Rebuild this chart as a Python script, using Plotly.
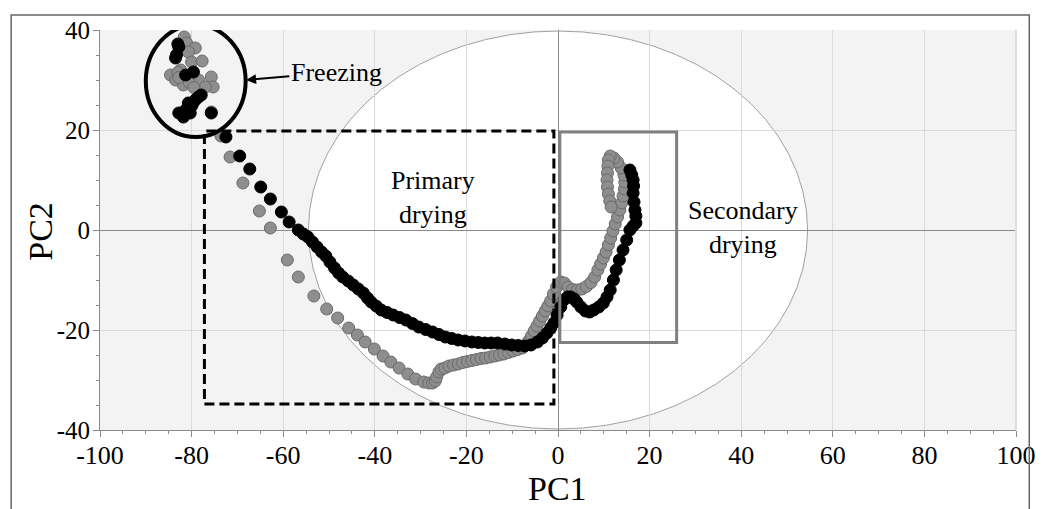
import plotly.graph_objects as go

# ---------------- data ----------------
gray_freeze_x = [-81.6, -81.1, -79.2, -80.7, -80.0, -77.7, -84.6, -82.4, -83.5, -81.8, -78.5, -75.7, -75.3, -77.0, -75.7,
                 -83.0, -80.5, -79.5, -82.8]
gray_freeze_y = [38.6, 37.4, 36.4, 35.6, 33.6, 33.8, 31.0, 32.0, 30.0, 29.0, 30.0, 30.6, 28.6, 28.6, 23.6,
                 31.5, 29.5, 28.5, 30.5]
gray_path_x = [-73.6, -71.6, -68.8, -65.2, -62.8, -59.1, -56.7, -53.3, -50.5, -48.1, -45.7, -43.8, -42.1, -40.1,
               -38.2, -36.5, -34.7, -32.8, -31.1, -29.3, -28.2, -27.4, -26.8, -26.5, -26.0, -25.5, -24.7, -23.8,
               -22.8, -21.8, -20.8, -19.8, -18.8, -17.8, -16.8, -15.8, -14.8, -13.8, -12.8, -11.8, -10.8, -9.8,
               -8.8, -7.8, -7.0, -6.4, -5.8, -5.2, -4.6, -4.0, -3.4, -2.8, -2.2, -1.6, -1.0, -0.3, 0.6, 1.4, 2.2,
               3.2, 4.2, 5.2, 6.2, 7.2, 8.0, 8.7, 9.3, 9.9, 10.5, 11.0, 11.5, 12.0, 12.5, 13.0, 13.5, 13.9, 14.2,
               14.5, 14.6, 14.4, 13.8, 13.0, 12.2, 11.4, 11.0, 10.9, 10.8, 10.7, 10.8, 11.0, 11.3, 11.6]
gray_path_y = [18.8, 14.6, 9.4, 3.8, 0.4, -6.0, -9.4, -13.2, -15.8, -17.6, -19.6, -21.0, -22.4, -23.8,
               -25.2, -26.4, -27.6, -28.8, -29.8, -30.4, -30.6, -30.6, -30.2, -29.4, -28.4, -27.8, -27.6, -27.2,
               -27.0, -26.8, -26.5, -26.3, -26.1, -25.9, -25.7, -25.6, -25.4, -25.2, -25.0, -24.8, -24.5, -24.2,
               -23.9, -23.6, -23.0, -22.2, -21.2, -20.2, -19.2, -18.2, -17.2, -16.2, -15.2, -14.2, -12.8, -11.4,
               -10.4, -10.6, -11.4, -11.9, -12.0, -11.8, -11.3, -10.5, -9.4, -8.0, -6.8, -5.6, -4.4, -3.0, -1.6,
               -0.2, 1.2, 2.6, 4.0, 5.4, 6.8, 8.2, 9.6, 11.0, 12.4, 13.6, 14.4, 14.8, 14.0, 12.8, 11.4, 10.0, 8.6,
               7.2, 5.8, 4.6]

black_freeze_x = [-82.8, -83.3, -83.5, -81.3, -79.6, -78.5, -79.2, -80.7, -81.3, -82.8, -81.8, -80.3, -77.9, -75.7,
                  -83.0, -80.0, -79.8]
black_freeze_y = [36.6, 35.0, 34.4, 31.0, 31.6, 26.6, 26.0, 25.4, 24.0, 23.4, 22.6, 23.4, 27.0, 23.4,
                  37.2, 24.8, 25.2]
black_path_x = [-72.5, -69.5, -67.3, -64.9, -62.8, -60.4, -58.7, -56.7, -55.6, -54.6, -53.6, -52.6, -51.6, -50.7,
                -49.8, -48.8, -47.9, -47.0, -45.8, -44.7, -43.6, -42.5, -41.6, -40.8, -39.7, -38.6, -37.3, -36.0,
                -34.6, -33.2, -31.8, -30.4, -28.9, -27.4, -26.0, -24.6, -23.2, -21.8, -20.3, -18.8, -17.4, -16.0,
                -14.6, -13.2, -11.6, -10.1, -8.7, -7.3, -5.9, -4.5, -3.4, -2.4, -1.6, -0.9, -0.2, 0.6, 1.3, 2.1,
                2.8, 3.5, 4.1, 5.0, 6.0, 6.9, 7.8, 8.9, 9.9, 10.7, 11.4, 12.1, 12.7, 13.4, 14.2, 15.0, 15.7, 16.4,
                17.0, 17.0, 16.8, 16.6, 16.4, 16.5, 16.4, 16.1, 15.7]
black_path_y = [18.6, 14.8, 12.2, 8.6, 6.2, 3.6, 1.6, 0.0, -0.8, -1.4, -2.4, -3.4, -4.4, -5.2,
                -6.4, -7.6, -8.6, -9.4, -10.2, -11.0, -11.8, -12.6, -13.6, -14.4, -15.2, -16.0, -16.5, -17.0,
                -17.5, -18.0, -18.7, -19.4, -19.9, -20.4, -20.9, -21.4, -21.7, -22.0, -22.2, -22.4, -22.5, -22.6,
                -22.6, -22.6, -22.8, -23.0, -23.1, -23.2, -23.0, -22.4, -21.6, -20.6, -19.6, -18.6, -17.0, -15.4,
                -14.0, -13.4, -13.4, -13.8, -14.4, -15.4, -16.2, -16.4, -16.0, -15.4, -14.6, -13.4, -12.0, -10.0,
                -8.0, -6.0, -4.0, -2.0, 0.0, 0.8, 1.4, 2.8, 4.0, 5.6, 7.4, 8.8, 10.0, 11.0, 12.0]

gray_x = gray_freeze_x + gray_path_x
gray_y = gray_freeze_y + gray_path_y
black_x = black_freeze_x + black_path_x
black_y = black_freeze_y + black_path_y

x_ticks = [-100, -80, -60, -40, -20, 0, 20, 40, 60, 80, 100]
y_ticks = [-40, -20, 0, 20, 40]

SERIF = "Liberation Serif, Times New Roman, serif"

fig = go.Figure()
fig.add_trace(go.Scatter(x=gray_x, y=gray_y, mode="markers",
                         marker=dict(size=12, color="#8e8e8e", line=dict(color="#6a6a6a", width=1)),
                         showlegend=False, hoverinfo="skip"))
fig.add_trace(go.Scatter(x=black_x, y=black_y, mode="markers",
                         marker=dict(size=12, color="#000000", line=dict(color="#000000", width=1)),
                         showlegend=False, hoverinfo="skip"))

shapes = [
    # Hotelling ellipse
    dict(type="circle", xref="x", yref="y", x0=-54.5, x1=54.5, y0=-39.8, y1=39.8,
         fillcolor="white", line=dict(color="#a0a0a0", width=1), layer="below"),
    # Primary drying box
    dict(type="rect", xref="x", yref="y", x0=-77.2, x1=-0.9, y0=-34.8, y1=19.8,
         line=dict(color="black", width=3, dash="10px,5px"), layer="above"),
    # Secondary drying box
    dict(type="rect", xref="x", yref="y", x0=0.4, x1=25.9, y0=-22.5, y1=19.6,
         line=dict(color="#808080", width=3), layer="above"),
    # Freezing circle
    dict(type="circle", xref="x", yref="y", x0=-90.0, x1=-68.2, y0=18.6, y1=41.0,
         line=dict(color="black", width=4), layer="above"),
    # right edge of plotting area
    dict(type="line", xref="paper", yref="paper", x0=1, x1=1, y0=0, y1=1,
         line=dict(color="#dedede", width=2)),
    # outer frame
    dict(type="rect", xref="paper", yref="paper", x0=-0.097, x1=1.0145, y0=-0.25, y1=1.0375,
         line=dict(color="#666666", width=1.5)),
]

annotations = [
    dict(x=-68.1, y=30.0, ax=-48.4, ay=31.6, axref="x", ayref="y", xref="x", yref="y",
         text="Freezing", showarrow=True, arrowhead=2, arrowsize=1, arrowwidth=2, arrowcolor="black",
         font=dict(family=SERIF, size=26, color="black")),
    dict(x=-27.2, y=6.6, xref="x", yref="y", text="Primary<br>drying", showarrow=False,
         font=dict(family=SERIF, size=26, color="black")),
    dict(x=40.3, y=0.6, xref="x", yref="y", text="Secondary<br>drying", showarrow=False,
         font=dict(family=SERIF, size=26, color="black")),
    dict(x=0.499, y=-0.146, xref="paper", yref="paper", xanchor="center", yanchor="middle",
         text="PC1", showarrow=False, font=dict(family=SERIF, size=34, color="black")),
    dict(x=-0.0647, y=0.4975, xref="paper", yref="paper", xanchor="center", yanchor="middle",
         text="PC2", showarrow=False, textangle=-90, font=dict(family=SERIF, size=34, color="black")),
]

fig.update_layout(
    width=1048, height=509,
    margin=dict(l=100, r=20, t=30, b=79),
    paper_bgcolor="white", plot_bgcolor="#f3f3f3",
    shapes=shapes, annotations=annotations,
    font=dict(family=SERIF, color="black"),
)
fig.update_xaxes(range=[-100, 100], tickvals=x_ticks, ticktext=[str(v) for v in x_ticks],
                 showgrid=True, gridcolor="#dadada", gridwidth=1,
                 zeroline=True, zerolinecolor="#8a8a8a", zerolinewidth=1,
                 showline=True, linecolor="#8a8a8a", linewidth=1,
                 ticks="outside", ticklen=6, tickcolor="#8a8a8a", ticklabelstandoff=-4,
                 minor=dict(dtick=5, tick0=0, ticks="outside", ticklen=3, tickcolor="#8a8a8a", showgrid=False),
                 tickfont=dict(family=SERIF, size=26, color="black"))
fig.update_yaxes(range=[-40, 40], tickvals=y_ticks, ticktext=[str(v) for v in y_ticks],
                 showgrid=True, gridcolor="#dadada", gridwidth=1,
                 zeroline=True, zerolinecolor="#8a8a8a", zerolinewidth=1,
                 showline=True, linecolor="#8a8a8a", linewidth=1,
                 ticks="outside", ticklen=6, tickcolor="#8a8a8a", ticklabelstandoff=-2,
                 minor=dict(dtick=5, tick0=0, ticks="outside", ticklen=3, tickcolor="#8a8a8a", showgrid=False),
                 tickfont=dict(family=SERIF, size=25, color="black"))

fig.write_html("out.html")
